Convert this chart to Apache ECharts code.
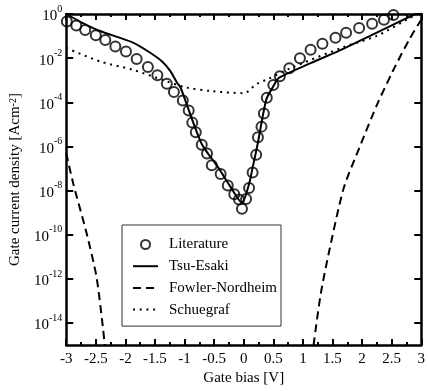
<!DOCTYPE html>
<html>
<head>
<meta charset="utf-8">
<script src="https://cdn.jsdelivr.net/npm/echarts@6/dist/echarts.min.js"></script>
<style>
  html, body { margin: 0; padding: 0; background: #fff; }
  #chart { width: 428px; height: 391px; }
</style>
</head>
<body>
<div id="chart"></div>
<script>
const fontFamily = '"Liberation Serif", "DejaVu Serif", serif'
const ink = '#000'

// bias ticks (V) and current density ticks (A/cm2)
const biasTicks = [-3, -2.5, -2, -1.5, -1, -0.5, 0, 0.5, 1, 1.5, 2, 2.5, 3]
const currentTicks = [1, 1e-2, 1e-4, 1e-6, 1e-8, 1e-10, 1e-12, 1e-14]

// Literature (circles)
const literatureBias = [-2.99, -2.83, -2.68, -2.50, -2.34, -2.17, -1.99, -1.81, -1.62, -1.46,
  -1.30, -1.18, -1.03, -0.93, -0.87, -0.81, -0.71, -0.62, -0.54, -0.39,
  -0.27, -0.16, -0.08, -0.03, 0.04, 0.09, 0.15, 0.21, 0.24, 0.30,
  0.34, 0.39, 0.50, 0.61, 0.77, 0.95, 1.13, 1.33, 1.55, 1.73,
  1.95, 2.17, 2.37, 2.53]
const literatureCurrent = [4.6e-1, 3.0e-1, 1.9e-1, 1.1e-1, 6.6e-2, 3.4e-2, 2.0e-2, 9.1e-3, 4.0e-3, 1.7e-3,
  6.9e-4, 2.9e-4, 1.2e-4, 4.2e-5, 1.2e-5, 4.4e-6, 1.2e-6, 4.8e-7, 1.4e-7, 5.6e-8,
  1.7e-8, 6.8e-9, 3.9e-9, 1.5e-9, 4.2e-9, 1.3e-8, 6.6e-8, 4.2e-7, 2.6e-6, 7.9e-6,
  3.1e-5, 1.6e-4, 6.0e-4, 1.5e-3, 3.5e-3, 9.8e-3, 2.4e-2, 4.5e-2, 8.3e-2, 1.4e-1,
  2.3e-1, 3.6e-1, 5.5e-1, 9.1e-1]

// Tsu-Esaki (solid)
const tsuEsakiBias = [-3.0, -2.72, -2.43, -1.88, -1.6, -1.38, -1.24, -1.13, -1.07, -0.95,
  -0.71, -0.43, -0.21, -0.03, 0.09, 0.15, 0.23, 0.38, 0.49, 0.6,
  1.13, 1.69, 2.24, 2.9]
const tsuEsakiCurrent = [1.0, 3.9e-1, 1.7e-1, 5.2e-2, 1.9e-2, 7.1e-3, 2.6e-3, 7.9e-4, 4.8e-4, 6.3e-5,
  1.3e-6, 1.1e-7, 1.3e-8, 2.8e-9, 2.0e-8, 1.1e-7, 1.1e-6, 1.3e-4, 4.8e-4, 1.3e-3,
  5.9e-3, 2.7e-2, 1.4e-1, 1.0]

// Fowler-Nordheim (dashed), negative and positive branches
const fowlerNegBias = [-3.0, -2.88, -2.66, -2.49, -2.38, -2.35]
const fowlerNegCurrent = [5.0e-7, 2.0e-8, 1.3e-10, 1.3e-12, 6.3e-15, 1.0e-15]
const fowlerPosBias = [1.18, 1.3, 1.44, 1.69, 1.97, 2.24, 2.52, 2.8, 3.0]
const fowlerPosCurrent = [1.0e-15, 2.0e-13, 1.6e-11, 1.3e-8, 1.1e-6, 6.5e-5, 2.6e-3, 7.2e-2, 5.5e-1]

// Schuegraf (dotted)
const schuegrafBias = [-3.0, -2.43, -1.88, -1.32, -0.99, -0.54, 0.0, 0.22, 0.4, 0.79, 1.69, 2.24, 2.8, 2.95]
const schuegrafCurrent = [2.9e-2, 7.1e-3, 3.0e-3, 9.3e-4, 4.8e-4, 3.2e-4, 2.6e-4, 6.8e-4, 1.1e-3, 3.5e-3, 3.2e-2, 1.0e-1, 6.5e-1, 1.0]

const pairs = (xs, ys) => xs.map((x, i) => [x, ys[i]])

const chart = echarts.init(document.getElementById('chart'))

const xAxisBase = {
  type: 'value',
  min: biasTicks[0],
  max: biasTicks[biasTicks.length - 1],
  interval: 0.5,
  axisLine: { show: true, onZero: false, lineStyle: { color: ink, width: 2.5 } },
  axisTick: { show: true, inside: true, length: 6, lineStyle: { color: ink, width: 2 } },
  minorTick: { show: true, splitNumber: 2, length: 3, lineStyle: { color: ink, width: 2 } },
  splitLine: { show: false },
}

const yAxisBase = {
  type: 'log',
  logBase: 10,
  min: 1e-15,
  max: 1,
  axisLine: { show: true, onZero: false, lineStyle: { color: ink, width: 2.5 } },
  axisTick: { show: true, inside: true, length: 7, customValues: currentTicks, lineStyle: { color: ink, width: 2 } },
  minorTick: { show: false },
  splitLine: { show: false },
}

// legend entries for the line series: line only, no marker
const lineOnly = { itemStyle: { opacity: 0 } }

const option = {
  animation: false,
  textStyle: { fontFamily: fontFamily, color: ink },
  grid: { left: 66, right: 2, top: 14, bottom: 36, containLabel: false },
  xAxis: [
    {
      ...xAxisBase,
      position: 'bottom',
      name: 'Gate bias [V]',
      nameLocation: 'middle',
      nameGap: 19,
      nameTextStyle: { fontFamily: fontFamily, fontSize: 15, color: ink },
      axisLabel: {
        show: true,
        margin: 6,
        fontFamily: fontFamily,
        fontSize: 15,
        color: ink,
        showMaxLabel: true,
        showMinLabel: true,
      },
    },
    {
      ...xAxisBase,
      position: 'top',
      axisLabel: { show: false },
    },
  ],
  yAxis: [
    {
      ...yAxisBase,
      position: 'left',
      name: '{n|Gate current density [Acm}{s|-2}{n|]}',
      nameLocation: 'middle',
      nameGap: 36,
      nameRotate: 90,
      nameTextStyle: {
        fontFamily: fontFamily,
        color: ink,
        rich: {
          n: { fontFamily: fontFamily, fontSize: 15, color: ink, verticalAlign: 'bottom' },
          s: { fontFamily: fontFamily, fontSize: 10, color: ink, verticalAlign: 'top' },
        },
      },
      axisLabel: {
        show: true,
        margin: 4,
        customValues: currentTicks,
        formatter: function (value) {
          return '{b|10}{s|' + Math.round(Math.log10(value)) + '}'
        },
        rich: {
          b: { fontFamily: fontFamily, fontSize: 15, color: ink, padding: [5, 0, 0, 0], verticalAlign: 'bottom' },
          s: { fontFamily: fontFamily, fontSize: 10, color: ink, verticalAlign: 'top' },
        },
      },
    },
    {
      ...yAxisBase,
      position: 'right',
      axisLabel: { show: false },
    },
  ],
  legend: {
    orient: 'vertical',
    left: 122,
    top: 225,
    padding: [12, 4, 9, 10],
    itemWidth: 25,
    itemHeight: 9,
    itemGap: 6.7,
    backgroundColor: '#fff',
    borderColor: '#333',
    borderWidth: 1,
    borderRadius: 0,
    data: [
      { name: 'Literature' },
      { name: 'Tsu-Esaki', ...lineOnly },
      { name: 'Fowler-Nordheim', ...lineOnly },
      { name: 'Schuegraf', ...lineOnly },
    ],
    textStyle: { fontFamily: fontFamily, fontSize: 15, color: ink, padding: [0, 0, 0, 6] },
  },
  series: [
    {
      name: 'Tsu-Esaki',
      type: 'line',
      data: pairs(tsuEsakiBias, tsuEsakiCurrent),
      symbol: 'none',
      smooth: 0.25,
      lineStyle: { color: ink, width: 2, type: 'solid' },
      itemStyle: { color: ink },
    },
    {
      name: 'Fowler-Nordheim',
      type: 'line',
      data: pairs(fowlerNegBias, fowlerNegCurrent),
      symbol: 'none',
      smooth: 0.25,
      lineStyle: { color: ink, width: 2, type: [8, 5] },
      itemStyle: { color: ink },
    },
    {
      name: 'Fowler-Nordheim',
      type: 'line',
      data: pairs(fowlerPosBias, fowlerPosCurrent),
      symbol: 'none',
      smooth: 0.25,
      lineStyle: { color: ink, width: 2, type: [8, 5] },
      itemStyle: { color: ink },
    },
    {
      name: 'Schuegraf',
      type: 'line',
      data: pairs(schuegrafBias, schuegrafCurrent),
      symbol: 'none',
      smooth: 0.3,
      lineStyle: { color: ink, width: 2, type: [2, 4.7] },
      itemStyle: { color: ink },
    },
    {
      name: 'Literature',
      type: 'scatter',
      data: pairs(literatureBias, literatureCurrent),
      symbol: 'circle',
      symbolSize: 10,
      itemStyle: { color: 'rgba(0,0,0,0)', borderColor: ink, borderWidth: 2 },
      z: 5,
    },
  ],
}

chart.setOption(option)
</script>
</body>
</html>
